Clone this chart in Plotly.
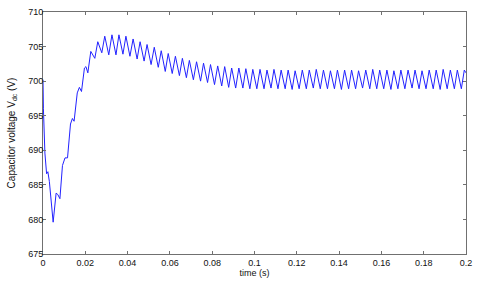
import plotly.graph_objects as go

# Start-up transient vertices (time in s, voltage in V)
startup_t = [0.0000, 0.0002, 0.0009, 0.0017, 0.0023, 0.0030, 0.0048, 0.0062, 0.0070, 0.0080,
             0.0092, 0.0104, 0.0116, 0.0130, 0.0139, 0.0147, 0.0162, 0.0172, 0.0182, 0.0196,
             0.0203, 0.0212, 0.0226, 0.0236, 0.0245]
startup_v = [700.2, 696.0, 689.6, 686.6, 686.9, 685.5, 679.6, 683.8, 683.6, 683.0,
             687.8, 688.9, 688.9, 693.8, 694.6, 694.2, 698.3, 699.1, 698.5, 701.9,
             702.1, 701.2, 704.3, 703.8, 703.3]

# Ripple peaks
peak_t = [0.0259, 0.0292, 0.0326, 0.0359, 0.0392, 0.0426, 0.0459, 0.0492, 0.0526, 0.0559,
          0.0592, 0.0626, 0.0659, 0.0692, 0.0726, 0.0759, 0.0792, 0.0826, 0.0859, 0.0892,
          0.0926, 0.0959, 0.0992, 0.1026, 0.1059, 0.1092, 0.1126, 0.1159, 0.1192, 0.1226,
          0.1259, 0.1292, 0.1326, 0.1359, 0.1392, 0.1426, 0.1459, 0.1492, 0.1526, 0.1559,
          0.1592, 0.1626, 0.1659, 0.1692, 0.1726, 0.1759, 0.1792, 0.1826, 0.1859, 0.1892,
          0.1926, 0.1959, 0.1992]
peak_v = [705.7, 706.5, 706.7, 706.7, 706.5, 706.1, 705.7, 705.3, 704.9, 704.4,
          704.0, 703.6, 703.3, 703.0, 702.8, 702.6, 702.4, 702.2, 702.1, 701.9,
          701.9, 701.8, 701.7, 701.7, 701.6, 701.7, 701.6, 701.6, 701.5, 701.6,
          701.6, 701.7, 701.6, 701.5, 701.6, 701.6, 701.6, 701.5, 701.6, 701.7,
          701.6, 701.6, 701.5, 701.6, 701.6, 701.6, 701.5, 701.6, 701.6, 701.7,
          701.6, 701.6, 701.6]

# Ripple troughs
trough_t = [0.0278, 0.0311, 0.0345, 0.0378, 0.0411, 0.0445, 0.0478, 0.0511, 0.0545, 0.0578,
            0.0611, 0.0645, 0.0678, 0.0711, 0.0745, 0.0778, 0.0811, 0.0845, 0.0878, 0.0911,
            0.0945, 0.0978, 0.1011, 0.1045, 0.1078, 0.1111, 0.1145, 0.1178, 0.1211, 0.1245,
            0.1278, 0.1311, 0.1345, 0.1378, 0.1411, 0.1445, 0.1478, 0.1511, 0.1545, 0.1578,
            0.1611, 0.1645, 0.1678, 0.1711, 0.1745, 0.1778, 0.1811, 0.1845, 0.1878, 0.1911,
            0.1945, 0.1978]
trough_v = [704.1, 703.8, 703.8, 703.9, 703.6, 703.2, 702.9, 702.4, 702.0, 701.4,
            701.1, 700.8, 700.5, 700.2, 700.0, 699.8, 699.5, 699.3, 699.1, 699.0,
            699.0, 698.9, 698.9, 698.9, 699.0, 698.9, 698.9, 698.8, 698.9, 698.9,
            699.0, 698.9, 698.9, 698.9, 698.8, 698.9, 698.9, 699.0, 698.9, 698.9,
            698.9, 698.8, 698.9, 698.9, 699.0, 698.9, 698.9, 698.9, 698.8, 698.9,
            698.9, 698.9]

end_t = [0.2000]
end_v = [701.2]

x_ticks = [0, 0.02, 0.04, 0.06, 0.08, 0.1, 0.12, 0.14, 0.16, 0.18, 0.2]
x_labels = ["0", "0.02", "0.04", "0.06", "0.08", "0.1", "0.12", "0.14", "0.16", "0.18", "0.2"]
y_ticks = [675, 680, 685, 690, 695, 700, 705, 710]

pts = sorted(zip(startup_t + peak_t + trough_t + end_t,
                 startup_v + peak_v + trough_v + end_v))
t_all = [p[0] for p in pts]
v_all = [p[1] for p in pts]

FONT = "Liberation Sans, Arial"

fig = go.Figure()
fig.add_trace(go.Scatter(x=t_all, y=v_all, mode="lines",
                         line=dict(color="#2222ff", width=1), showlegend=False))

axis_common = dict(showgrid=False, zeroline=False, showline=True, linecolor="#707070",
                   linewidth=1, mirror="ticks", ticks="inside", ticklen=3,
                   tickcolor="#707070", automargin=False, ticklabeloverflow="allow",
                   tickfont=dict(family=FONT, size=9, color="#111111"))
fig.update_layout(
    width=480, height=284,
    margin=dict(l=43, r=14, t=12, b=30),
    paper_bgcolor="white", plot_bgcolor="white",
    xaxis=dict(range=[0, 0.2], tickvals=x_ticks, ticktext=x_labels, ticklabelstandoff=0,
               title=dict(text="time (s)", font=dict(family=FONT, size=9, color="#111111"),
                          standoff=0),
               **axis_common),
    yaxis=dict(range=[675, 710], tickvals=y_ticks, ticklabelstandoff=-3,
               title=dict(text="Capacitor voltage V<sub>dc</sub> (V)",
                          font=dict(family=FONT, size=10, color="#111111"),
                          standoff=10),
               **axis_common),
)
fig.write_html("out.html", config={"displayModeBar": False},
               post_script="document.body.style.margin='0px';document.body.style.overflow='hidden';")
